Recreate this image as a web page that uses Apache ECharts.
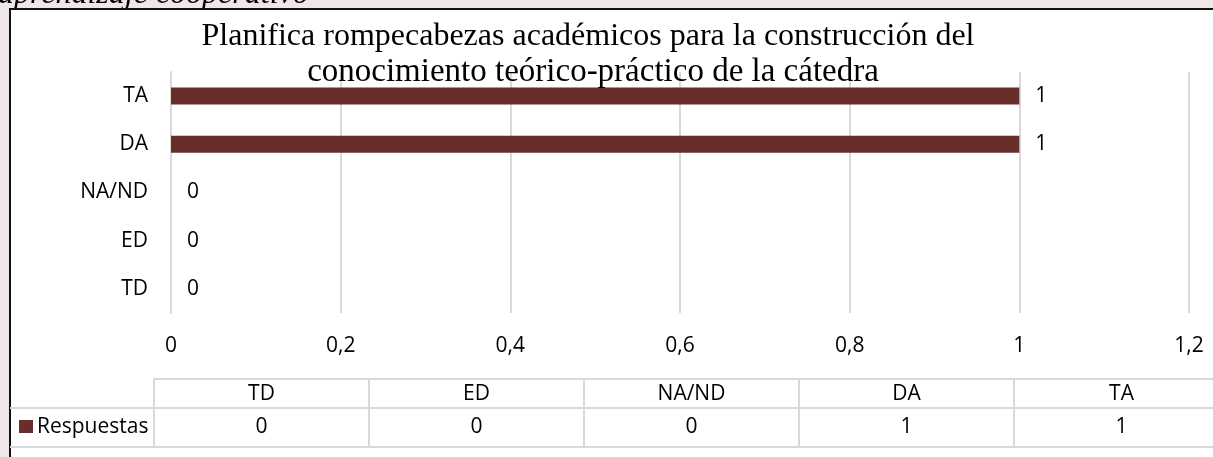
<!DOCTYPE html>
<html><head><meta charset="utf-8">
<script src="https://cdn.jsdelivr.net/npm/echarts@6/dist/echarts.min.js"></script>
<style>html,body{margin:0;padding:0;background:#efe7e7;overflow:hidden}#c{width:1213px;height:457px}</style>
</head><body><div id="c"></div>
<script>
// ---- data ----
const categories = ['TD', 'ED', 'NA/ND', 'DA', 'TA'];
const values = [0, 0, 0, 1, 1];
const seriesName = 'Respuestas';
const titleLines = ['Planifica rompecabezas académicos para la construcción del', 'conocimiento teórico-práctico de la cátedra'];
const captionText = 'aprendizaje cooperativo';
const xMin = 0, xMax = 1.2, xStep = 0.2;

// ---- styles ----
const BAR = '#682e2b';
const GRID = '#d9d9d9';
const FONT = '"Open Sans", sans-serif';
const FS = 21;

const chart = echarts.init(document.getElementById('c'), null, {renderer: 'canvas'});

// data table (built from the arrays)
const tbl = {x0: 10, hx: 154, colW: 215, yTop: 379, yMid: 408, yBot: 447};
const g = [];
g.push({type: 'text', z: -20, x: -2, y: 11, style: {text: captionText, font: 'italic 32px "Liberation Serif", serif', fill: '#000', textVerticalAlign: 'bottom'}});
g.push({type: 'rect', z: -10, shape: {x: 10, y: 9, width: 1230, height: 470},
  style: {fill: '#ffffff', stroke: '#111', lineWidth: 2}});
g.push({type: 'text', z: 5, x: 588, y: 37, style: {text: titleLines[0], font: '32px "Liberation Serif", serif', fill: '#000', textAlign: 'center', textVerticalAlign: 'middle'}});
g.push({type: 'text', z: 5, x: 593, y: 72, style: {text: titleLines[1], font: '33px "Liberation Serif", serif', fill: '#000', textAlign: 'center', textVerticalAlign: 'middle'}});
const ln = (x1, y1, x2, y2) => g.push({type: 'line', shape: {x1, y1, x2, y2}, style: {stroke: GRID, lineWidth: 2}});
const xEnd = tbl.hx + tbl.colW * categories.length;
ln(tbl.hx, tbl.yTop, xEnd, tbl.yTop);
ln(tbl.x0, tbl.yMid, xEnd, tbl.yMid);
ln(tbl.x0, tbl.yBot, xEnd, tbl.yBot);
for (let i = 0; i <= categories.length; i++) {
  const x = tbl.hx + tbl.colW * i;
  ln(x, tbl.yTop, x, tbl.yBot);
}
categories.forEach((c, i) => {
  const cx = tbl.hx + tbl.colW * (i + 0.5);
  g.push({type: 'text', x: cx, y: (tbl.yTop + tbl.yMid) / 2 + 1, style: {text: c, font: FS + 'px ' + FONT, fill: '#000', textAlign: 'center', textVerticalAlign: 'middle'}});
  g.push({type: 'text', x: cx, y: (tbl.yMid + tbl.yBot) / 2, style: {text: String(values[i]), font: FS + 'px ' + FONT, fill: '#000', textAlign: 'center', textVerticalAlign: 'middle'}});
});
g.push({type: 'rect', shape: {x: 19, y: 420, width: 14, height: 13}, style: {fill: BAR}});
g.push({type: 'text', x: 37, y: (tbl.yMid + tbl.yBot) / 2, style: {text: seriesName, font: FS + 'px ' + FONT, fill: '#000', textVerticalAlign: 'middle'}});

chart.setOption({
  animation: false,
  backgroundColor: '#efe7e7',
  grid: {left: 171, right: 24, top: 72, bottom: 144, containLabel: false},
  xAxis: {
    type: 'value', min: xMin, max: xMax, interval: xStep,
    axisLine: {show: false}, axisTick: {show: false},
    splitLine: {show: true, lineStyle: {color: GRID, width: 2}},
    axisLabel: {margin: 23, color: '#000', fontSize: FS, fontFamily: FONT,
      formatter: v => String(Math.round(v * 10) / 10).replace('.', ',')}
  },
  yAxis: {
    type: 'category', data: categories,
    axisLine: {show: true, lineStyle: {color: GRID, width: 2}},
    axisTick: {show: false},
    axisLabel: {margin: 23, color: '#000', fontSize: FS, fontFamily: FONT}
  },
  series: [{
    name: seriesName, type: 'bar', data: values, barWidth: 17,
    itemStyle: {color: BAR},
    label: {show: true, position: 'right', distance: 16, color: '#000', fontSize: FS, fontFamily: FONT}
  }],
  graphic: g
});
</script></body></html>
